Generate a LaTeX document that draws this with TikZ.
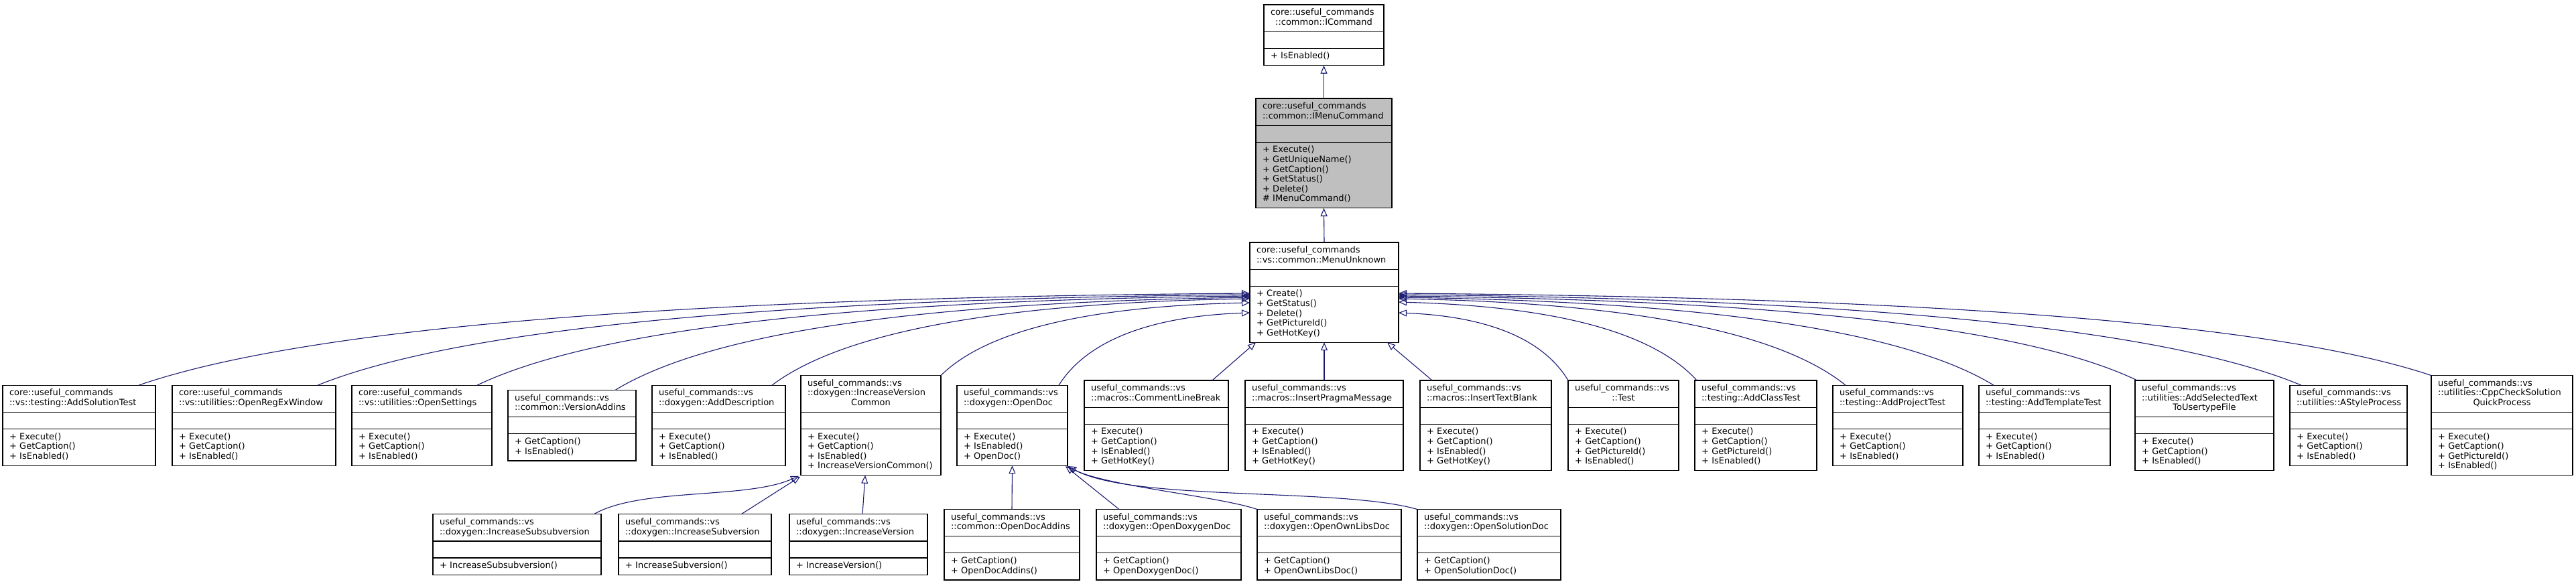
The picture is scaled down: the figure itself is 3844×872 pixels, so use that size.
\documentclass[tikz,border=0pt]{standalone}
\usepackage{fontspec}
\setmainfont{DejaVu Sans}
\usepackage{tikz}
\usetikzlibrary{positioning,arrows.meta,calc}
\definecolor{edgeblue}{RGB}{25,25,112}
\definecolor{curgray}{RGB}{191,191,191}
\tikzstyle{classpart}=[draw=black,fill=white,line width=1.2pt,inner xsep=10pt,inner ysep=0pt,outer sep=0pt,align=left,font=\fontsize{13}{14.6}\selectfont]
\tikzstyle{curpart}=[classpart,fill=curgray]
\tikzstyle{inherit}=[draw=edgeblue,line width=1.1pt,-{Triangle[open,length=12pt,width=10pt]}]
\newcommand{\hdl}[1]{\strut#1}
\newcommand{\hdc}[1]{\makebox[\hsize]{\strut#1}}
\newcommand{\pubm}[1]{\strut+ #1()}
\newcommand{\protm}[1]{\strut\# #1()}
% [style] name, (x,y), text width, title lines, title, method lines, methods
\newcommand{\umlclass}[8][classpart]{%
  \node[#1,text width=#4pt,minimum height={14.6*#5+11},anchor=north west] (#2) at #3 {#6};
  \node[#1,minimum width={#4+20},minimum height=25,below=0pt of #2] (#2-e) {};
  \node[#1,text width=#4pt,minimum height={14.6*#7+11},below=0pt of #2-e] (#2-m) {#8};
}

\begin{document}
\begin{tikzpicture}[x=1pt,y=-1pt]
        \useasboundingbox (0,0) rectangle (3844,872);
        % base classes
        \umlclass{ic}{(1886,7)}{159}{2}{\hdl{core::useful\_commands}\\\hdc{::common::ICommand}}{1}{\pubm{IsEnabled}}
        \umlclass[curpart]{imc}{(1874,147)}{183}{2}{\hdl{core::useful\_commands}\\\hdl{::common::IMenuCommand}}{6}{\pubm{Execute}\\\pubm{GetUniqueName}\\\pubm{GetCaption}\\\pubm{GetStatus}\\\pubm{Delete}\\\protm{IMenuCommand}}
        \umlclass{mu}{(1865,362)}{202}{2}{\hdl{core::useful\_commands}\\\hdl{::vs::common::MenuUnknown}}{5}{\pubm{Create}\\\pubm{GetStatus}\\\pubm{Delete}\\\pubm{GetPictureId}\\\pubm{GetHotKey}}
        % first row
        \umlclass{ast}{(4,575.2)}{208}{2}{\hdl{core::useful\_commands}\\\hdl{::vs::testing::AddSolutionTest}}{3}{\pubm{Execute}\\\pubm{GetCaption}\\\pubm{IsEnabled}}
        \umlclass{orw}{(257,575.2)}{224}{2}{\hdl{core::useful\_commands}\\\hdl{::vs::utilities::OpenRegExWindow}}{3}{\pubm{Execute}\\\pubm{GetCaption}\\\pubm{IsEnabled}}
        \umlclass{ost}{(525,575.2)}{189}{2}{\hdl{core::useful\_commands}\\\hdl{::vs::utilities::OpenSettings}}{3}{\pubm{Execute}\\\pubm{GetCaption}\\\pubm{IsEnabled}}
        \umlclass{vad}{(758,582.5)}{171}{2}{\hdl{useful\_commands::vs}\\\hdl{::common::VersionAddins}}{2}{\pubm{GetCaption}\\\pubm{IsEnabled}}
        \umlclass{ades}{(973,575.2)}{179}{2}{\hdl{useful\_commands::vs}\\\hdl{::doxygen::AddDescription}}{3}{\pubm{Execute}\\\pubm{GetCaption}\\\pubm{IsEnabled}}
        \umlclass{ivc}{(1195,560.6)}{189}{3}{\hdl{useful\_commands::vs}\\\hdl{::doxygen::IncreaseVersion}\\\hdc{Common}}{4}{\pubm{Execute}\\\pubm{GetCaption}\\\pubm{IsEnabled}\\\pubm{IncreaseVersionCommon}}
        \umlclass{od}{(1428,575.2)}{145}{2}{\hdl{useful\_commands::vs}\\\hdl{::doxygen::OpenDoc}}{3}{\pubm{Execute}\\\pubm{IsEnabled}\\\pubm{OpenDoc}}
        \umlclass{clb}{(1618,567.9)}{195}{2}{\hdl{useful\_commands::vs}\\\hdl{::macros::CommentLineBreak}}{4}{\pubm{Execute}\\\pubm{GetCaption}\\\pubm{IsEnabled}\\\pubm{GetHotKey}}
        \umlclass{ipm}{(1858,567.9)}{216}{2}{\hdl{useful\_commands::vs}\\\hdl{::macros::InsertPragmaMessage}}{4}{\pubm{Execute}\\\pubm{GetCaption}\\\pubm{IsEnabled}\\\pubm{GetHotKey}}
        \umlclass{itb}{(2119,567.9)}{176}{2}{\hdl{useful\_commands::vs}\\\hdl{::macros::InsertTextBlank}}{4}{\pubm{Execute}\\\pubm{GetCaption}\\\pubm{IsEnabled}\\\pubm{GetHotKey}}
        \umlclass{tst}{(2340,567.9)}{145}{2}{\hdl{useful\_commands::vs}\\\hdc{::Test}}{4}{\pubm{Execute}\\\pubm{GetCaption}\\\pubm{GetPictureId}\\\pubm{IsEnabled}}
        \umlclass{act}{(2529,567.9)}{162}{2}{\hdl{useful\_commands::vs}\\\hdl{::testing::AddClassTest}}{4}{\pubm{Execute}\\\pubm{GetCaption}\\\pubm{GetPictureId}\\\pubm{IsEnabled}}
        \umlclass{apt}{(2735,575.2)}{174}{2}{\hdl{useful\_commands::vs}\\\hdl{::testing::AddProjectTest}}{3}{\pubm{Execute}\\\pubm{GetCaption}\\\pubm{IsEnabled}}
        \umlclass{att}{(2953,575.2)}{176}{2}{\hdl{useful\_commands::vs}\\\hdl{::testing::AddTemplateTest}}{3}{\pubm{Execute}\\\pubm{GetCaption}\\\pubm{IsEnabled}}
        \umlclass{asf}{(3186,567.9)}{187}{3}{\hdl{useful\_commands::vs}\\\hdl{::utilities::AddSelectedText}\\\hdc{ToUsertypeFile}}{3}{\pubm{Execute}\\\pubm{GetCaption}\\\pubm{IsEnabled}}
        \umlclass{asp}{(3417,575.2)}{155}{2}{\hdl{useful\_commands::vs}\\\hdl{::utilities::AStyleProcess}}{3}{\pubm{Execute}\\\pubm{GetCaption}\\\pubm{IsEnabled}}
        \umlclass{ccp}{(3628,560.6)}{191}{3}{\hdl{useful\_commands::vs}\\\hdl{::utilities::CppCheckSolution}\\\hdc{QuickProcess}}{4}{\pubm{Execute}\\\pubm{GetCaption}\\\pubm{GetPictureId}\\\pubm{IsEnabled}}
        % second row
        \umlclass{iss}{(646,767.8)}{231}{2}{\hdl{useful\_commands::vs}\\\hdl{::doxygen::IncreaseSubsubversion}}{1}{\pubm{IncreaseSubsubversion}}
        \umlclass{isv}{(923,767.8)}{208}{2}{\hdl{useful\_commands::vs}\\\hdl{::doxygen::IncreaseSubversion}}{1}{\pubm{IncreaseSubversion}}
        \umlclass{ivr}{(1178,767.8)}{186}{2}{\hdl{useful\_commands::vs}\\\hdl{::doxygen::IncreaseVersion}}{1}{\pubm{IncreaseVersion}}
        \umlclass{oda}{(1409,760.5)}{182}{2}{\hdl{useful\_commands::vs}\\\hdl{::common::OpenDocAddins}}{2}{\pubm{GetCaption}\\\pubm{OpenDocAddins}}
        \umlclass{odd}{(1636,760.5)}{196}{2}{\hdl{useful\_commands::vs}\\\hdl{::doxygen::OpenDoxygenDoc}}{2}{\pubm{GetCaption}\\\pubm{OpenDoxygenDoc}}
        \umlclass{old}{(1876,760.5)}{195}{2}{\hdl{useful\_commands::vs}\\\hdl{::doxygen::OpenOwnLibsDoc}}{2}{\pubm{GetCaption}\\\pubm{OpenOwnLibsDoc}}
        \umlclass{osd}{(2115,760.5)}{194}{2}{\hdl{useful\_commands::vs}\\\hdl{::doxygen::OpenSolutionDoc}}{2}{\pubm{GetCaption}\\\pubm{OpenSolutionDoc}}
        % inheritance
        \draw[inherit] (imc.north) -- (ic-m.south);
        \draw[inherit] (mu.north) -- (imc-m.south);
        \draw[inherit] ($(ast.north west)+(203,0)$) .. controls +(298,-103) and +(-663,5) .. ($(mu.north west)+(0,76)$);
        \draw[inherit] ($(orw.north west)+(217,0)$) .. controls +(250,-101) and +(-556,5) .. ($(mu.north west)+(0,78)$);
        \draw[inherit] ($(ost.north west)+(187,0)$) .. controls +(208,-100) and +(-461,5) .. ($(mu.north west)+(0,80)$);
        \draw[inherit] ($(vad.north west)+(160,0)$) .. controls +(170,-104) and +(-379,6) .. ($(mu.north west)+(0,82)$);
        \draw[inherit] ($(ades.north west)+(179,0)$) .. controls +(128,-97) and +(-285,5) .. ($(mu.north west)+(0,84)$);
        \draw[inherit] (ivc.north east) .. controls +(83,-82) and +(-184,4) .. ($(mu.north west)+(0,90)$);
        \draw[inherit] ($(od.north west)+(152,0)$) .. controls +(51,-81) and +(-114,4) .. ($(mu.north west)+(0,105)$);
        \draw[inherit] ($(clb.north west)+(191,0)$) -- ($(mu-m.south west)+(9,0)$);
        \draw[inherit] (ipm.north) -- (mu-m.south);
        \draw[inherit] ($(itb.north west)+(18,0)$) -- ($(mu-m.south east)+(-17,0)$);
        \draw[inherit] (tst.north west) .. controls +(-46,-76) and +(101,4) .. ($(mu.north east)+(0,105)$);
        \draw[inherit] ($(act.north west)+(3,0)$) .. controls +(-80,-88) and +(178,5) .. ($(mu.north east)+(0,89)$);
        \draw[inherit] ($(apt.north west)+(19,0)$) .. controls +(-120,-97) and +(267,5) .. ($(mu.north east)+(0,84)$);
        \draw[inherit] ($(att.north west)+(22,0)$) .. controls +(-160,-98) and +(355,5) .. ($(mu.north east)+(0,82)$);
        \draw[inherit] ($(asf.north west)+(3,0)$) .. controls +(-198,-95) and +(441,5) .. ($(mu.north east)+(0,80)$);
        \draw[inherit] ($(asp.north west)+(17,0)$) .. controls +(-242,-101) and +(539,5) .. ($(mu.north east)+(0,78)$);
        \draw[inherit] (ccp.north west) .. controls +(-277,-93) and +(616,5) .. ($(mu.north east)+(0,76)$);
        \draw[inherit] ($(iss.north west)+(240,0)$) .. controls +(70,-40) and +(-80,35) .. ($(ivc-m.south west)+(-3,1)$);
        \draw[inherit] ($(isv.north west)+(183,0)$) -- ($(ivc-m.south west)+(-1,2)$);
        \draw[inherit] ($(ivr.north west)+(109,0)$) -- ($(ivc-m.south west)+(96,0)$);
        \draw[inherit] (oda.north) -- (od-m.south);
        \draw[inherit] ($(odd.north west)+(34,0)$) -- ($(od-m.south east)+(-3,1)$);
        \draw[inherit] (old.north west) .. controls +(-60,-20) and +(60,30) .. ($(od-m.south east)+(-1,1)$);
        \draw[inherit] (osd.north west) .. controls +(-115,-33) and +(96,53) .. ($(od-m.south east)+(1,1)$);
      \end{tikzpicture}
\end{document}
